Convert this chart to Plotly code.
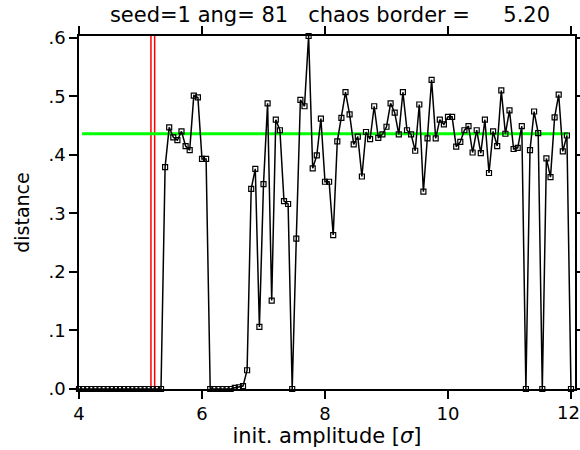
import plotly.graph_objects as go

step = 1.0 / 15.0
x_vals = [4 + k * step for k in range(121)]

distance = [
    0, 0, 0, 0, 0, 0, 0, 0, 0, 0,
    0, 0, 0, 0, 0, 0, 0, 0, 0, 0,
    0, 0.379, 0.447, 0.430, 0.425, 0.440, 0.415, 0.408, 0.501, 0.498,
    0.393, 0.393, 0, 0, 0, 0, 0, 0, 0.002, 0.003,
    0.005, 0.032, 0.342, 0.376, 0.106, 0.350, 0.488, 0.151, 0.460, 0.442,
    0.321, 0.316, 0, 0.257, 0.494, 0.483, 0.603, 0.377, 0.399, 0.462,
    0.354, 0.354, 0.263, 0.423, 0.463, 0.507, 0.469, 0.418, 0.431, 0.363,
    0.439, 0.427, 0.483, 0.429, 0.435, 0.448, 0.488, 0.472, 0.435, 0.507,
    0.442, 0.435, 0.407, 0.486, 0.337, 0.428, 0.528, 0.428, 0.460, 0.452,
    0.465, 0.465, 0.414, 0.422, 0.442, 0.449, 0.404, 0.442, 0.403, 0.460,
    0.369, 0.440, 0.415, 0.510, 0.436, 0.476, 0.410, 0.412, 0.449, 0,
    0.408, 0.474, 0.437, 0, 0.394, 0.362, 0.464, 0.503, 0.406, 0.433,
    0,
]

mean_level = 0.436
mean_x = [4.05, 11.95]
border_lines = [5.17, 5.23]
x_ticks = [4, 6, 8, 10, 12]
x_tick_text = ["4", "6", "8", "10", ""]
last_tick_label = "12"
y_ticks = [0, 0.1, 0.2, 0.3, 0.4, 0.5, 0.6]
y_tick_text = [".0", ".1", ".2", ".3", ".4", ".5", ".6"]

FONT = "DejaVu Sans"
NB = "\u00a0"
title_text = ("seed=1" + NB + "ang=" + NB + "81" + NB * 3 + "chaos" + NB +
              "border" + NB + "=" + NB * 5 + "5.20")

fig = go.Figure()

for bx in border_lines:
    fig.add_trace(go.Scatter(
        x=[bx, bx], y=[0, 0.603], mode="lines",
        line=dict(color="#ff0000", width=1.5), showlegend=False,
        hoverinfo="skip"))

fig.add_trace(go.Scatter(
    x=mean_x, y=[mean_level, mean_level], mode="lines",
    line=dict(color="#00ff00", width=3), showlegend=False))

fig.add_trace(go.Scatter(
    x=x_vals, y=distance, mode="lines+markers",
    line=dict(color="black", width=1.5),
    marker=dict(symbol="square-open", size=5, color="black",
                line=dict(width=1.2, color="black")),
    cliponaxis=False, showlegend=False))

axis_common = dict(
    showgrid=False, zeroline=False, showline=True, linecolor="black",
    linewidth=1.5, ticks="outside", ticklen=8, tickwidth=1.5,
    tickcolor="black", mirror="ticks", automargin=False,
    ticklabeloverflow="allow",
    tickfont=dict(family=FONT, size=18, color="black"),
)

fig.update_layout(
    width=580, height=450,
    margin=dict(l=79, r=5, t=36, b=61, autoexpand=False),
    paper_bgcolor="white", plot_bgcolor="white",
    title=dict(
        text=title_text,
        x=0.569, xanchor="center", y=0.967, yanchor="middle",
        font=dict(family=FONT, size=21, color="black")),
    xaxis=dict(range=[4, 12.065], tickvals=x_ticks, ticktext=x_tick_text,
               title=dict(text="init. amplitude [<i>σ</i>]", standoff=2,
                          font=dict(family=FONT, size=21, color="black")),
               **axis_common),
    yaxis=dict(range=[0, 0.603], tickvals=y_ticks, ticktext=y_tick_text,
               title=dict(text="distance", standoff=14,
                          font=dict(family=FONT, size=19, color="black")),
               **axis_common),
)

fig.add_annotation(
    x=x_ticks[-1], xref="x", y=0, yref="paper", yanchor="top",
    xanchor="center", xshift=-3, yshift=-11, showarrow=False,
    text=last_tick_label, font=dict(family=FONT, size=18, color="black"))

fig.write_html("out.html")
